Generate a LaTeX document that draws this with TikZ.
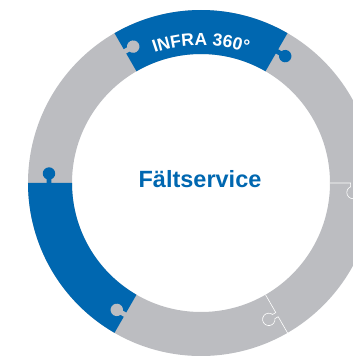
\documentclass[tikz,border=0pt]{standalone}
\usepackage{fontspec}
\setmainfont{Liberation Sans}
\usetikzlibrary{decorations.text}

\definecolor{infrablue}{RGB}{0,103,176}
\definecolor{ringgrey}{RGB}{188,189,193}

\tikzset{
  blueband/.style={fill=infrablue},
  greyband/.style={fill=ringgrey},
  seam/.style={draw=white, line width=0.6pt},
}

\begin{document}
\begin{tikzpicture}[x=1pt,y=1pt]
    \clip (-201,-173) rectangle (152,183);
    \useasboundingbox (-201,-173) rectangle (152,183);

    % ring
    \fill[greyband, even odd rule] (0,0) circle (173) (0,0) circle (129);
    \fill[blueband] (60:173) arc[start angle=60, end angle=120, radius=173] -- (120:129) arc[start angle=120, end angle=60, radius=129] -- cycle;
    \fill[blueband] (180:173) arc[start angle=180, end angle=240, radius=173] -- (240:129) arc[start angle=240, end angle=180, radius=129] -- cycle;

    % puzzle knobs
    \foreach \a/\col in {60/blueband, 120/greyband, 180/blueband, 240/greyband} {
      \fill[\col, rotate=\a] (149.6,0.8) -- (149.6,-3.78) arc[start angle=112.8, end angle=427.2, radius=6.2] -- (154.4,0.8) -- cycle;
    }
    \foreach \a in {0, 300} {
      \draw[seam, rotate=\a] (129,0) -- (149.6,0) -- (149.6,-3.78) arc[start angle=112.8, end angle=427.2, radius=6.2] -- (154.4,0) -- (174,0);
    }

    % labels
    \path[decorate, decoration={text along path, text align=center, text color=white,
      text={|\bfseries\fontsize{17.5}{17.5}\selectfont|INFRA 360°}}]
      (125:138) arc[start angle=125, end angle=55, radius=138];
    \node[text=infrablue, font=\bfseries\fontsize{23.5}{23.5}\selectfont] (title) at (-1,4) {Fältservice};
\end{tikzpicture}
\end{document}
